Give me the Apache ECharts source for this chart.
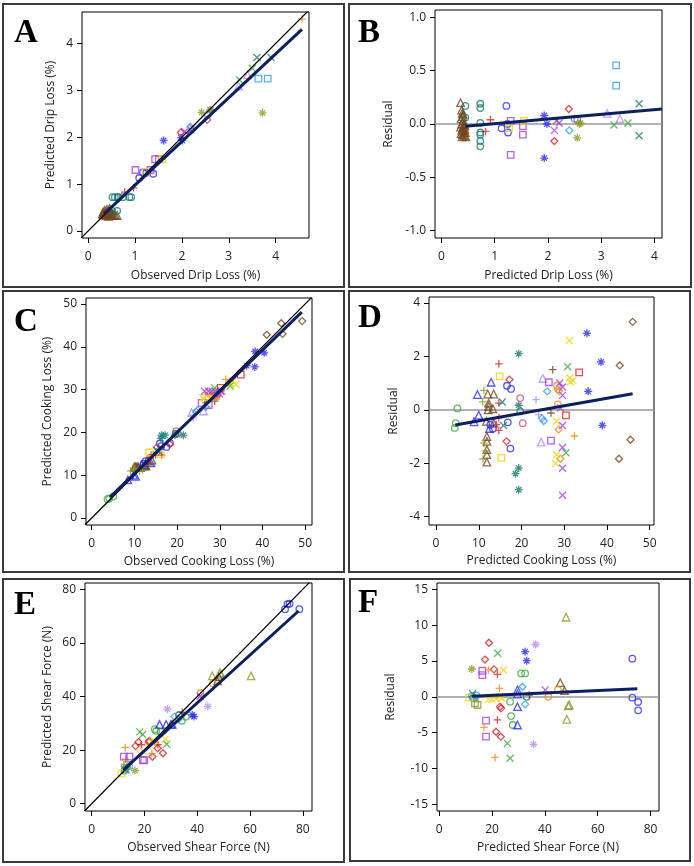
<!DOCTYPE html>
<html><head><meta charset="utf-8">
<script src="https://cdn.jsdelivr.net/npm/echarts@6/dist/echarts.min.js"></script>
<style>html,body{margin:0;padding:0;background:#fff}#c{width:694px;height:866px}</style>
</head><body><div id="c"></div>
<script>
// ---------- DATA (x, y, marker key: colour letter + shape letter) ----------
// Panel A: observed vs predicted drip loss (%)
const dripObsPred = [
 [0.30,0.36,'nT'],[0.32,0.40,'nT'],[0.34,0.38,'nT'],[0.35,0.44,'nT'],[0.36,0.35,'nT'],[0.38,0.41,'nT'],[0.40,0.37,'nT'],[0.40,0.46,'nT'],[0.42,0.39,'nT'],[0.43,0.34,'nT'],[0.45,0.43,'nT'],[0.46,0.48,'nT'],[0.47,0.36,'nT'],[0.48,0.40,'nT'],[0.50,0.38,'nT'],[0.52,0.33,'nT'],[0.55,0.35,'nT'],[0.58,0.34,'nT'],[0.62,0.33,'nT'],[0.44,0.31,'nT'],[0.38,0.32,'nT'],[0.33,0.35,'nT'],
 [0.52,0.72,'tO'],[0.57,0.72,'tO'],[0.63,0.72,'tO'],[0.65,0.72,'tO'],[0.74,0.72,'tO'],[0.88,0.72,'tO'],[0.92,0.72,'tO'],[0.51,0.43,'tO'],[0.62,0.43,'tO'],
 [0.78,0.83,'rP'],[0.97,0.92,'rP'],
 [1.09,1.13,'bO'],[1.17,1.25,'bO'],[1.24,1.24,'bO'],[1.39,1.22,'bO'],
 [1.01,1.30,'pQ'],[1.33,1.30,'pQ'],[1.51,1.53,'pQ'],[1.43,1.53,'pQ'],
 [1.58,1.53,'yQ'],[1.23,1.26,'yQ'],
 [2.01,1.93,'bA'],[1.61,1.93,'bA'],[1.98,1.99,'bA'],
 [1.98,2.10,'rD'],[2.54,2.37,'rD'],
 [2.19,2.16,'pX'],[2.06,2.12,'pX'],[2.22,2.21,'pX'],
 [2.18,2.22,'lD'],[2.55,2.48,'lO'],
 [2.42,2.53,'vA'],[3.72,2.52,'vA'],[2.60,2.58,'vA'],[2.62,2.58,'vA'],
 [3.63,3.25,'lQ'],[3.83,3.25,'lQ'],
 [3.23,3.22,'gX'],[3.50,3.47,'gX'],
 [3.60,3.70,'tX'],[3.90,3.70,'tX'],
 [3.21,3.09,'mT'],[3.40,3.33,'mT'],
 [4.56,4.52,'oP']
];
// Panel B: predicted drip loss vs residual
const dripPredResid = [
 [0.36,0.20,'nT'],[0.38,0.13,'nT'],[0.39,0.10,'nT'],[0.40,0.07,'nT'],[0.37,0.05,'nT'],[0.41,0.03,'nT'],[0.38,0.00,'nT'],[0.42,-0.01,'nT'],[0.36,-0.03,'nT'],[0.40,-0.04,'nT'],[0.44,-0.05,'nT'],[0.38,-0.06,'nT'],[0.42,-0.07,'nT'],[0.45,-0.08,'nT'],[0.37,-0.09,'nT'],[0.40,-0.10,'nT'],[0.43,-0.11,'nT'],[0.46,-0.12,'nT'],[0.39,-0.12,'nT'],[0.44,-0.02,'nT'],[0.41,0.09,'nT'],[0.43,0.00,'nT'],
 [0.45,0.17,'tO'],[0.45,0.06,'tO'],[0.73,0.19,'tO'],[0.73,0.15,'tO'],[0.73,0.01,'tO'],[0.73,-0.08,'tO'],[0.73,-0.10,'tO'],[0.73,-0.16,'tO'],[0.73,-0.21,'tO'],
 [0.92,0.04,'rP'],[0.83,-0.07,'rP'],
 [1.22,0.17,'bO'],[1.13,-0.04,'bO'],[1.25,-0.08,'bO'],[1.24,0.00,'bO'],
 [1.30,0.03,'pQ'],[1.53,-0.02,'pQ'],[1.53,-0.10,'pQ'],[1.30,-0.29,'pQ'],
 [1.55,0.03,'yQ'],[1.27,-0.04,'yQ'],
 [1.93,0.08,'bA'],[1.98,0.00,'bA'],[1.93,-0.32,'bA'],
 [2.39,0.14,'rD'],[2.12,-0.16,'rD'],
 [2.16,0.03,'pX'],[2.12,-0.06,'pX'],[2.21,0.01,'pX'],
 [2.40,-0.06,'lD'],[2.50,0.05,'lO'],[2.55,0.04,'kO'],
 [2.55,-0.13,'vA'],[2.59,0.00,'vA'],[2.61,0.01,'vA'],
 [3.28,0.55,'lQ'],[3.28,0.36,'lQ'],
 [3.24,-0.01,'gX'],[3.50,0.01,'gX'],
 [3.71,0.19,'tX'],[3.71,-0.11,'tX'],
 [3.11,0.10,'mT'],[3.35,0.05,'mT']
];
// Panel C: observed vs predicted cooking loss (%)
const cookObsPred = [
 [5.05,5.0,'gO'],[4.1,4.6,'gO'],[3.7,4.4,'gO'],
 [13.9,12.9,'bT'],[10.3,9.7,'bT'],[9.8,10.0,'bT'],[8.45,8.9,'bT'],[11.8,12.5,'bT'],
 [12.7,12.1,'nT'],[14.1,13.5,'nT'],[12.55,12.3,'nT'],[12.4,12.3,'nT'],[12.3,12.2,'nT'],[10.9,11.9,'nT'],[10.7,11.9,'nT'],[10.4,11.9,'nT'],[10.2,11.9,'nT'],[9.95,11.9,'nT'],[11.4,11.8,'nT'],[13.35,13.3,'nT'],[13.0,13.5,'nT'],
 [11.9,11.2,'vP'],[11.2,10.9,'vP'],[9.95,11.2,'vP'],[9.1,11.0,'vP'],[10.1,11.6,'vP'],
 [17.5,16.6,'bO'],[18.3,17.55,'bO'],[16.3,16.8,'bO'],[15.95,17.4,'bO'],[12.15,12.7,'bO'],[12.6,13.3,'bO'],
 [16.4,14.7,'rP'],[14.95,14.7,'rP'],[14.4,14.7,'rP'],[13.9,14.7,'rP'],[13.55,14.1,'rP'],
 [16.15,14.9,'yQ'],[13.5,15.3,'yQ'],
 [18.3,17.2,'rD'],[15.3,16.5,'rD'],
 [15.8,15.5,'tX'],[15.2,15.8,'tX'],
 [20.15,19.7,'kO'],[19.8,20.3,'kO'],
 [21.45,19.35,'tA'],[19.5,19.35,'tA'],[17.2,19.35,'tA'],[16.2,18.6,'tA'],[16.35,19.35,'tA'],
 [19.65,19.7,'tO'],
 [23.8,23.4,'mP'],[23.8,24.0,'mP'],
 [26.2,25.0,'mT'],[23.4,24.6,'mT'],
 [26.7,26.0,'lD'],[24.5,24.8,'lD'],[24.8,25.2,'lD'],
 [27.4,26.4,'pQ'],[25.75,26.9,'pQ'],
 [28.8,27.3,'nP'],[26.8,26.9,'nP'],
 [29.2,28.3,'oO'],[28.7,28.5,'oO'],
 [29.26,28.5,'oD'],[29.5,28.8,'oD'],[27.96,28.7,'oD'],[27.27,29.1,'oD'],
 [27.8,28.2,'yX'],[26.5,28.2,'yX'],[26.0,28.0,'yX'],[33.8,31.2,'yX'],[32.5,31.3,'yX'],[32.4,31.4,'yX'],[33.1,32.0,'yX'],
 [29.95,28.95,'pX'],[30.45,29.6,'pX'],[30.15,29.6,'pX'],[29.2,29.1,'pX'],[29.0,29.6,'pX'],[28.2,29.6,'pX'],[27.4,29.6,'pX'],[26.4,29.6,'pX'],
 [34.9,33.5,'rQ'],[30.2,30.4,'rQ'],
 [31.4,32.4,'oP'],
 [32.4,30.8,'gX'],[28.8,30.4,'gX'],
 [38.2,35.3,'bA'],[40.4,38.6,'bA'],[36.3,35.6,'bA'],[38.3,38.9,'bA'],
 [49.3,46.0,'nD'],[44.7,43.0,'nD'],[41.0,42.8,'nD'],[44.4,45.5,'nD']
];
// Panel D: predicted cooking loss vs residual
const cookPredResid = [
 [5.0,0.05,'gO'],[4.6,-0.5,'gO'],[4.4,-0.68,'gO'],
 [12.9,1.03,'bT'],[9.7,0.57,'bT'],[10.0,-0.2,'bT'],[8.9,-0.45,'bT'],[12.5,-0.7,'bT'],
 [12.1,0.59,'nT'],[13.5,0.59,'nT'],[12.3,0.25,'nT'],[12.3,0.13,'nT'],[12.2,0.0,'nT'],[11.9,-1.0,'nT'],[11.9,-1.18,'nT'],[11.9,-1.49,'nT'],[11.9,-1.68,'nT'],[11.9,-1.96,'nT'],[11.8,-0.43,'nT'],[13.3,0.04,'nT'],[13.5,-0.5,'nT'],
 [11.2,0.73,'vP'],[10.9,0.3,'vP'],[11.2,-1.25,'vP'],[11.0,-1.84,'vP'],[11.6,-1.54,'vP'],
 [16.6,0.9,'bO'],[17.55,0.78,'bO'],[16.8,-0.47,'bO'],[17.4,-1.45,'bO'],[12.7,-0.56,'bO'],[13.3,-0.71,'bO'],
 [14.7,1.72,'rP'],[14.7,0.25,'rP'],[14.7,-0.3,'rP'],[14.7,-0.77,'rP'],[14.1,-0.55,'rP'],
 [14.9,1.25,'yQ'],[15.3,-1.8,'yQ'],
 [17.2,1.13,'rD'],[16.5,-1.18,'rD'],
 [15.5,0.29,'tX'],[15.8,-0.59,'tX'],
 [19.7,0.44,'kO'],[20.3,-0.5,'kO'],
 [19.35,2.1,'tA'],[19.35,0.17,'tA'],[19.35,-2.18,'tA'],[18.6,-2.39,'tA'],[19.35,-2.99,'tA'],
 [19.7,-0.06,'tO'],
 [23.4,0.38,'mP'],[24.0,-0.18,'mP'],
 [25.0,1.17,'mT'],[24.6,-1.21,'mT'],
 [26.0,0.69,'lD'],[24.8,-0.32,'lD'],[25.2,-0.42,'lD'],
 [26.4,1.03,'pQ'],[26.9,-1.15,'pQ'],
 [27.3,1.5,'nP'],[26.9,-0.12,'nP'],
 [28.3,0.9,'oO'],[28.5,0.2,'oO'],
 [28.5,0.76,'oD'],[28.8,0.7,'oD'],[28.7,-0.74,'oD'],[29.1,-1.83,'oD'],
 [28.2,-0.43,'yX'],[28.2,-1.67,'yX'],[28.0,-2.0,'yX'],[31.2,2.59,'yX'],[31.3,1.19,'yX'],[31.4,1.04,'yX'],[32.0,1.09,'yX'],
 [28.95,1.0,'pX'],[29.6,0.85,'pX'],[29.6,0.54,'pX'],[29.1,0.07,'pX'],[29.6,-0.59,'pX'],[29.6,-1.41,'pX'],[29.6,-2.19,'pX'],[29.6,-3.2,'pX'],
 [33.5,1.4,'rQ'],[30.4,-0.21,'rQ'],
 [32.4,-0.98,'oP'],
 [30.8,1.61,'gX'],[30.4,-1.61,'gX'],
 [35.3,2.86,'bA'],[38.6,1.79,'bA'],[35.6,0.69,'bA'],[38.9,-0.58,'bA'],
 [46.0,3.29,'nD'],[43.0,1.66,'nD'],[42.8,-1.83,'nD'],[45.5,-1.12,'nD']
];
// Panel E: observed vs predicted shear force (N)
const shearObsPred = [
 [60.4,47.7,'vT'],[45.7,47.7,'vT'],[48.6,48.9,'vT'],[49.0,48.3,'vT'],
 [47.7,45.8,'nT'],[48.2,47.4,'nT'],
 [45.9,44.9,'oO'],[41.3,41.3,'oO'],
 [41.1,40.1,'pX'],
 [44.0,36.3,'mA'],[28.7,35.3,'mA'],
 [38.8,32.5,'bA'],[38.1,33.1,'bA'],
 [78.7,72.6,'bO'],[73.3,72.6,'bO'],[74.2,74.5,'bO'],[75.0,74.6,'bO'],
 [34.2,31.0,'gO'],[35.7,32.4,'gO'],[26.1,26.8,'gO'],[24.5,27.2,'gO'],[23.9,27.8,'gO'],
 [32.9,31.5,'lD'],[31.4,32.5,'lD'],
 [33.1,33.1,'tO'],[34.3,34.1,'nP'],
 [30.5,29.6,'bT'],[30.0,29.6,'bT'],[28.2,29.6,'bT'],[25.7,29.6,'bT'],
 [28.4,22.2,'gX'],[19.3,25.8,'gX'],[18.2,26.8,'gX'],
 [27.0,18.8,'rD'],[23.0,17.5,'rD'],[25.0,20.7,'rD'],[21.6,23.0,'rD'],[21.8,23.4,'rD'],[16.6,21.5,'rD'],[17.7,23.0,'rD'],
 [25.1,22.0,'rP'],[18.8,22.0,'rP'],
 [12.7,21.0,'oP'],[12.9,16.6,'oP'],[22.8,18.7,'oP'],[24.0,22.8,'oP'],
 [27.9,24.0,'yX'],[18.3,18.6,'yX'],[19.6,19.6,'yX'],[23.0,23.0,'yX'],[23.5,23.6,'yX'],[21.3,21.5,'yX'],
 [19.9,16.2,'pQ'],[19.4,16.3,'pQ'],[14.3,17.6,'pQ'],[12.2,17.6,'pQ'],
 [16.4,12.4,'vA'],
 [12.4,12.3,'lO'],[13.0,13.2,'lO'],[14.2,14.0,'lO'],[12.6,12.8,'lO'],
 [13.0,12.6,'tX'],[12.6,13.5,'vQ'],[13.4,14.5,'vQ'],[11.2,11.3,'yQ']
];
// Panel F: predicted shear force vs residual
const shearPredResid = [
 [36.5,7.3,'mA'],[35.7,-6.63,'mA'],
 [18.8,7.55,'rD'],[17.3,5.2,'rD'],[20.7,3.83,'rD'],[23.0,-1.38,'rD'],[23.4,-1.61,'rD'],[21.5,-4.87,'rD'],[23.3,-5.56,'rD'],
 [22.1,6.07,'gX'],[25.8,-6.49,'gX'],[26.8,-8.58,'gX'],
 [32.5,6.3,'bA'],[33.1,5.04,'bA'],
 [12.3,3.88,'vA'],
 [16.3,3.64,'pQ'],[16.3,3.04,'pQ'],[17.7,-3.33,'pQ'],[17.7,-5.56,'pQ'],
 [18.6,3.74,'oP'],[22.8,1.18,'oP'],[16.9,-4.26,'oP'],[21.1,-8.45,'oP'],
 [24.3,3.74,'yX'],[18.6,-0.36,'yX'],[19.9,-0.36,'yX'],[23.0,0.05,'yX'],[23.6,-0.2,'yX'],[21.5,-0.25,'yX'],
 [22.0,3.14,'rP'],[22.0,-3.23,'rP'],
 [31.0,3.27,'gO'],[32.5,3.27,'gO'],[26.8,-0.68,'gO'],[27.2,-2.68,'gO'],[27.8,-3.93,'gO'],
 [31.5,1.41,'lD'],[32.5,-1.05,'lD'],
 [45.8,1.97,'nT'],[47.4,0.86,'nT'],
 [44.9,0.97,'oO'],[41.3,0.0,'oO'],
 [40.1,0.97,'pX'],
 [29.6,0.95,'bT'],[29.6,0.39,'bT'],[29.6,-1.38,'bT'],[29.6,-3.93,'bT'],
 [33.1,0.0,'tO'],[34.1,0.25,'nP'],
 [12.3,0.1,'lO'],[13.2,-0.15,'lO'],[14.0,0.2,'lO'],[12.8,-0.2,'lO'],
 [12.6,0.45,'tX'],[13.5,-0.9,'vQ'],[14.5,-1.14,'vQ'],[11.3,-0.1,'yQ'],
 [48.0,11.1,'vT'],[49.2,-1.14,'vT'],[48.8,-1.25,'vT'],[48.3,-3.14,'vT'],
 [73.1,5.32,'bO'],[73.1,-0.12,'bO'],[75.3,-0.72,'bO'],[75.3,-1.89,'bO']
];
// fitted regression lines (end points)
const dripFitA = [[0.35,0.37],[4.56,4.30]];
const dripFitB = [[0.45,-0.02],[4.14,0.14]];
const cookFitC = [[4.3,4.9],[49.2,48.1]];
const cookFitD = [[4.5,-0.57],[46.0,0.60]];
const shearFitE = [[12.0,12.6],[78.4,71.9]];
const shearFitF = [[12.3,0.08],[75.0,1.12]];
// tick labels
const dripTicks = [0,1,2,3,4];
const dripResidTicks = [-1,-0.5,0,0.5,1];
const cookTicks = [0,10,20,30,40,50];
const cookResidTicks = [-4,-2,0,2,4];
const shearTicks = [0,20,40,60,80];
const shearResidTicks = [-15,-10,-5,0,5,10,15];
const panelLetters = ['A','B','C','D','E','F'];

// ---------- STYLE / LAYOUT ----------
const COLORS = {b:'#2a2aff', r:'#d4202c', g:'#3cab3c', p:'#a03ee0', o:'#f08a14', t:'#167a6c', n:'#74451c', y:'#f4d20a', l:'#2f9df0', v:'#8c9a24', k:'#c8507c', m:'#b68cf0'};
const SHAPES = {O:'circle', Q:'rect', T:'triangle', D:'diamond',
  P:'path://M5 0L5 10M0 5L10 5',
  X:'path://M0 0L10 10M10 0L0 10',
  A:'path://M5 0L5 10M0 5L10 5M1.6 1.6L8.4 8.4M8.4 1.6L1.6 8.4'};
const SIZES = {O:6.5, Q:6.5, T:7.5, D:7, P:7.5, X:7, A:8};
const FONT = 'Open Sans';

const panels = [
  {grid:{left:82, top:12, width:227, height:226}, xr:[-0.13,4.71], yr:[-0.15,4.67], xt:dripTicks, yt:dripTicks, pts:dripObsPred, fit:dripFitA, diag:true,
   xn:'Observed Drip Loss (%)', yn:'Predicted Drip Loss (%)', xg:32, yg:25},
  {grid:{left:435, top:10, width:227, height:228}, xr:[-0.12,4.14], yr:[-1.07,1.07], xt:dripTicks, yt:dripResidTicks, pts:dripPredResid, fit:dripFitB, zero:true,
   xn:'Predicted Drip Loss (%)', yn:'Residual', xg:32, yg:40, yfmt:v=>v.toFixed(1)},
  {grid:{left:86, top:298, width:226, height:227}, xr:[-1.34,51.6], yr:[-1.64,51.4], xt:cookTicks, yt:cookTicks, pts:cookObsPred, fit:cookFitC, diag:true,
   xn:'Observed Cooking Loss (%)', yn:'Predicted Cooking Loss (%)', xg:31, yg:32},
  {grid:{left:429, top:297, width:225, height:228}, xr:[-1.64,51.0], yr:[-4.31,4.22], xt:cookTicks, yt:cookResidTicks, pts:cookPredResid, fit:cookFitD, zero:true,
   xn:'Predicted Cooking Loss (%)', yn:'Residual', xg:30, yg:29},
  {grid:{left:85, top:583, width:227, height:228}, xr:[-2.54,83.5], yr:[-2.72,82.35], xt:shearTicks, yt:shearTicks, pts:shearObsPred, fit:shearFitE, diag:true,
   xn:'Observed Shear Force (N)', yn:'Predicted Shear Force (N)', xg:31, yg:31},
  {grid:{left:437, top:583, width:222, height:228}, xr:[-0.87,83.2], yr:[-15.93,15.88], xt:shearTicks, yt:shearResidTicks, pts:shearPredResid, fit:shearFitF, zero:true,
   xn:'Predicted Shear Force (N)', yn:'Residual', xg:31, yg:40}
];
const boxes = [[3,4,341,283],[349,4,342,283],[3,291,341,281],[349,291,341,281],[3,579,341,283],[350,579,340,282]];
const letterPos = [[14,17],[358,17],[14,306],[358,302],[14,589],[358,587]];

function axisCfg(gi, range, ticks, name, gap, fmt, isX) {
  return {
    type:'value', gridIndex:gi, min:range[0], max:range[1], scale:true,
    name:name, nameLocation:'middle', nameGap:gap,
    nameTextStyle:{fontFamily:FONT, fontSize:12, color:'#222'},
    axisLine:{show:false, onZero:false},
    splitLine:{show:false},
    axisTick:{show:true, inside:false, length:5, customValues:ticks, lineStyle:{color:'#000', width:1}},
    axisLabel:{show:true, customValues:ticks, margin:isX ? 13 : 9, fontFamily:FONT, fontSize:12, color:'#222', formatter: fmt || (v => String(v))}
  };
}

const grids = [], xAxes = [], yAxes = [], series = [];
panels.forEach((p, gi) => {
  grids.push(Object.assign({show:true, borderColor:'#000', borderWidth:1, backgroundColor:'transparent', containLabel:false}, p.grid));
  xAxes.push(axisCfg(gi, p.xr, p.xt, p.xn, p.xg, null, true));
  yAxes.push(axisCfg(gi, p.yr, p.yt, p.yn, p.yg, p.yfmt, false));
  const groups = {};
  p.pts.forEach(d => { (groups[d[2]] = groups[d[2]] || []).push([d[0], d[1]]); });
  Object.keys(groups).forEach(k => {
    series.push({type:'scatter', xAxisIndex:gi, yAxisIndex:gi, data:groups[k], symbol:SHAPES[k[1]], symbolSize:SIZES[k[1]],
      itemStyle:{color:'rgba(255,255,255,0)', borderColor:COLORS[k[0]], borderWidth:1.3}, silent:true, z:2});
  });
  if (p.diag) {
    const lo = Math.min(p.xr[0], p.yr[0]), hi = Math.max(p.xr[1], p.yr[1]);
    series.push({type:'line', xAxisIndex:gi, yAxisIndex:gi, data:[[lo,lo],[hi,hi]], symbol:'none', showSymbol:false, clip:true,
      lineStyle:{color:'#000', width:1.2}, silent:true, z:3});
  }
  const fitS = {type:'line', xAxisIndex:gi, yAxisIndex:gi, data:p.fit, symbol:'none', showSymbol:false, clip:true,
      lineStyle:{color:'#0c1f5f', width:3}, silent:true, z:4};
  if (p.zero) {
    fitS.markLine = {silent:true, symbol:'none', label:{show:false}, animation:false, z:1,
      lineStyle:{color:'#999', width:1.5, type:'solid'}, data:[{yAxis:0}]};
  }
  series.push(fitS);
});

const graphic = [];
boxes.forEach(b => graphic.push({type:'rect', shape:{x:b[0], y:b[1], width:b[2], height:b[3]}, style:{fill:'none', stroke:'#3a3a3a', lineWidth:2}, silent:true}));
panelLetters.forEach((t, i) => graphic.push({type:'text', x:letterPos[i][0], y:letterPos[i][1],
  style:{text:t, font:'bold 33px "Liberation Serif"', fill:'#000', textAlign:'left', textVerticalAlign:'top'}, silent:true}));

const chart = echarts.init(document.getElementById('c'), null, {renderer:'canvas'});
chart.setOption({animation:false, backgroundColor:'#fff', grid:grids, xAxis:xAxes, yAxis:yAxes, series:series, graphic:graphic});
</script></body></html>
